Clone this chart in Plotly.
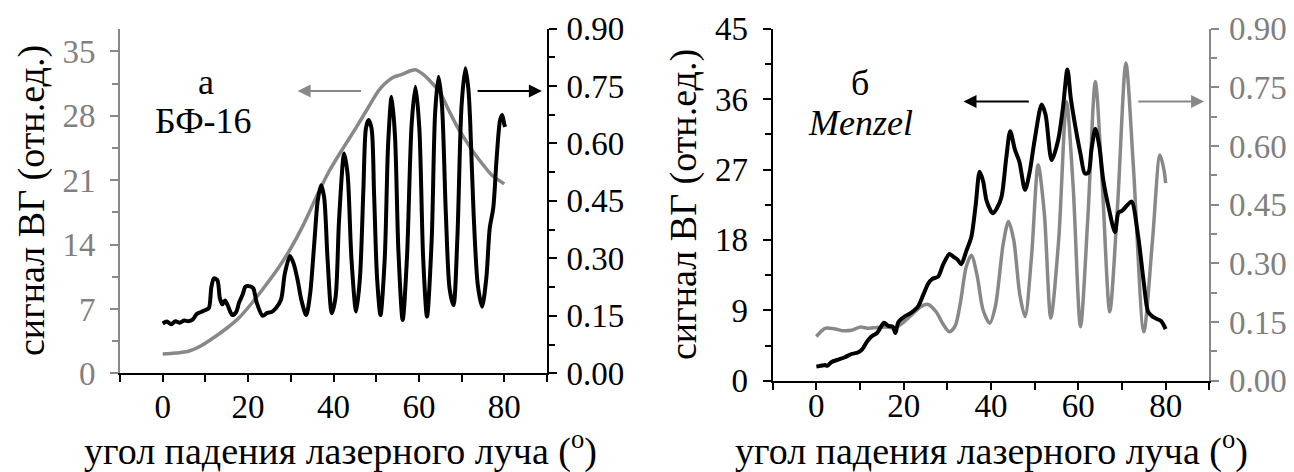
import plotly.graph_objects as go

# ---------------- data ----------------
# Panel a (БФ-16): black curve -> right axis (0..0.9), gray curve -> left axis (0..37.5)
angle_a_black = [0, 1, 2, 3, 4, 5, 6, 7, 8, 9, 10, 10.8, 11.4, 12.0, 12.8, 13.4, 14.0, 14.6, 15.2,
                 16.3, 17.2, 17.9, 18.7, 19.4, 20.5, 21.2, 22.0, 23.4, 24.5, 25.5, 26.5, 27.7,
                 28.6, 29.8, 30.7, 31.6, 32.5, 33.6, 34.5, 35.5, 36.3, 37.1, 37.8, 38.6, 39.6,
                 40.5, 41.3, 42.5, 43.3, 44.2, 45.3, 46.2, 47.0, 47.6, 48.2, 48.9, 49.5, 50.2,
                 51.0, 52.0, 52.8, 53.6, 54.4, 55.2, 56.2, 57.2, 58.3, 59.2, 60.1, 61.0, 61.9,
                 63.0, 63.8, 64.6, 65.4, 66.3, 67.2, 68.1, 69.0, 70.0, 70.9, 71.6, 72.0, 72.8,
                 73.8, 74.8, 75.8, 76.6, 77.4, 78.2, 79.0, 79.5, 80.0, 80.2]
signal_a_black = [0.130, 0.135, 0.128, 0.136, 0.132, 0.138, 0.136, 0.140, 0.155, 0.160, 0.165, 0.170,
                  0.225, 0.248, 0.243, 0.195, 0.180, 0.190, 0.178, 0.152, 0.160, 0.185, 0.205,
                  0.226, 0.227, 0.222, 0.185, 0.150, 0.158, 0.160, 0.170, 0.192, 0.260, 0.306,
                  0.285, 0.243, 0.190, 0.152, 0.205, 0.340, 0.450, 0.491, 0.460, 0.300, 0.157,
                  0.200, 0.400, 0.574, 0.520, 0.300, 0.161, 0.250, 0.480, 0.640, 0.661, 0.640,
                  0.470, 0.250, 0.152, 0.300, 0.600, 0.722, 0.620, 0.320, 0.139, 0.300, 0.650,
                  0.748, 0.640, 0.300, 0.148, 0.350, 0.680, 0.774, 0.700, 0.420, 0.220, 0.178,
                  0.350, 0.700, 0.796, 0.740, 0.660, 0.420, 0.230, 0.174, 0.250, 0.380, 0.430,
                  0.560, 0.660, 0.674, 0.650, 0.643]
angle_a_gray = [0, 3, 6, 9, 12, 15, 18, 21, 24, 27, 30, 33, 36, 39, 42, 45, 48, 50.5, 52, 54, 56,
                58, 59.3, 61, 63, 65, 67, 69, 71, 73, 75, 77, 80]
signal_a_gray = [2.1, 2.2, 2.4, 3.0, 3.9, 4.9, 6.1, 7.7, 9.5, 11.4, 13.6, 16.2, 19.2, 22.0, 24.3,
                 26.5, 28.8, 30.7, 31.5, 32.2, 32.5, 32.9, 33.0, 32.5, 31.6, 30.5, 28.6, 26.8,
                 25.3, 23.9, 22.7, 21.6, 20.6]

# Panel б (Menzel): black curve -> left axis (0..45), gray curve -> right axis (0..0.9)
angle_b_black = [0, 1, 2, 2.5, 3.5, 5, 6.5, 8, 9.5, 10.5, 11.6, 12.5, 13.9, 14.7, 15.5, 16.5, 17.5,
                 18.1, 18.8, 20.2, 21.5, 23.3, 24.5, 25.6, 26.5, 27.9, 29, 30.5, 31.5, 32.3, 33.2,
                 34.3, 35.5, 36.5, 37.4, 38.2, 39.0, 40.4, 41.3, 42.4, 43.5, 44.4, 45.5, 46.5,
                 47.8, 48.8, 50.0, 51.6, 52.5, 53.9, 55.4, 56.5, 57.5, 58.3, 59.7, 60.5, 61.5,
                 62.3, 63.0, 63.9, 64.8, 65.7, 67.0, 68.4, 69.2, 70.0, 71.3, 72.2, 73.7, 75.0,
                 76.0, 77.0, 78.0, 79.0, 80.0]
signal_b_black = [1.8, 1.9, 2.0, 1.9, 2.4, 2.7, 3.0, 3.4, 3.6, 4.0, 5.0, 5.6, 6.1, 6.8, 7.4, 7.0,
                  6.9, 6.1, 7.5, 8.2, 8.6, 9.5, 11.0, 12.4, 13.0, 13.3, 14.8, 16.2, 15.8, 15.5,
                  14.9, 16.5, 18.4, 22.5, 26.7, 25.5, 23.0, 21.4, 22.0, 23.5, 28.5, 31.9, 29.5,
                  28.0, 24.4, 26.5, 30.8, 35.3, 34.0, 28.2, 30.8, 35.0, 39.8, 36.0, 31.3, 29.0,
                  26.5, 26.6, 29.5, 32.2, 30.0, 25.7, 22.0, 19.0, 21.5, 21.7, 22.5, 22.9, 18.5,
                  12.5, 8.8, 8.2, 7.9, 7.6, 6.6]
angle_b_gray = [0, 1, 2, 4, 6, 8, 10, 12, 14, 16, 18, 20, 22, 24, 25.6, 27.5, 29.0, 30.5, 31.8, 33.0,
                34.3, 35.5, 36.8, 38.2, 39.7, 41.0, 42.8, 44.0, 45.2, 46.6, 47.8, 49.3, 50.8, 52.2,
                53.7, 55.5, 57.3, 58.8, 60.5, 62.2, 63.9, 65.5, 67.2, 69.0, 70.9, 72.6, 75.0, 77.0,
                78.7, 79.6, 80.0]
signal_b_gray = [0.113, 0.125, 0.134, 0.133, 0.128, 0.129, 0.137, 0.134, 0.136, 0.137, 0.135, 0.150,
                 0.170, 0.190, 0.195, 0.175, 0.145, 0.125, 0.140, 0.200, 0.290, 0.321, 0.270,
                 0.180, 0.147, 0.190, 0.350, 0.407, 0.360, 0.220, 0.164, 0.320, 0.552, 0.430,
                 0.160, 0.360, 0.713, 0.500, 0.138, 0.420, 0.765, 0.500, 0.176, 0.450, 0.812,
                 0.550, 0.125, 0.360, 0.577, 0.540, 0.505]

x_tickvals = [0, 20, 40, 60, 80]
a_left_ticks = [0, 7, 14, 21, 28, 35]
b_left_ticks = [0, 9, 18, 27, 36, 45]
right_ticks = [0.00, 0.15, 0.30, 0.45, 0.60, 0.75, 0.90]

# ---------------- styling ----------------
W, H = 1294, 472
GRAY = "#888888"
LBLGRAY = "#808080"
BLACK = "#000000"
FONT = "Liberation Serif, Tinos, Times New Roman, DejaVu Serif, serif"
TICKFONT = 33
TITLEFONT = 38


def px_x(p):
    return p / W


def px_y(p):
    return 1 - p / H


a_dom_x = [px_x(120), px_x(547)]
a_dom_y = [px_y(373.3), px_y(28.5)]
b_dom_x = [px_x(772.7), px_x(1209.3)]
b_dom_y = [px_y(380.7), px_y(28.7)]

fig = go.Figure()
line_gray = dict(color=GRAY, width=3.5, shape="spline", smoothing=0.8)
line_black = dict(color=BLACK, width=4, shape="spline", smoothing=0.8)

fig.add_trace(go.Scatter(x=angle_a_gray, y=signal_a_gray, xaxis="x", yaxis="y",
                         mode="lines", line=line_gray, showlegend=False))
fig.add_trace(go.Scatter(x=angle_a_black, y=signal_a_black, xaxis="x", yaxis="y2",
                         mode="lines", line=line_black, showlegend=False))
fig.add_trace(go.Scatter(x=angle_b_gray, y=signal_b_gray, xaxis="x2", yaxis="y3",
                         mode="lines", line=line_gray, showlegend=False))
fig.add_trace(go.Scatter(x=angle_b_black, y=signal_b_black, xaxis="x2", yaxis="y4",
                         mode="lines", line=line_black, showlegend=False))


def xaxis_bottom(dom, anchor, standoff):
    return dict(domain=dom, anchor=anchor, range=[-10, 90], tickvals=x_tickvals,
                ticks="outside", ticklen=7, tickwidth=2, tickcolor=BLACK,
                minor=dict(dtick=10, tick0=0, ticks="outside", ticklen=7, tickwidth=2, tickcolor=BLACK),
                showline=True, linecolor=BLACK, linewidth=2, showgrid=False, zeroline=False,
                tickfont=dict(family=FONT, size=TICKFONT, color=BLACK), ticklabelstandoff=standoff,
                automargin=False, fixedrange=True)


def xaxis_top(over, anchor):
    return dict(overlaying=over, anchor=anchor, side="top", range=[-10, 90], dtick=10, tick0=0,
                ticks="inside", ticklen=5, tickwidth=2, tickcolor=BLACK, showticklabels=False,
                showline=True, linecolor=BLACK, linewidth=2, showgrid=False, zeroline=False,
                automargin=False)


def yaxis(color, lblcolor, rng, tickvals, minor_dtick, fmt, side, standoff, **kw):
    d = dict(range=rng, tickvals=tickvals, side=side, ticks="outside", ticklen=8, tickwidth=2,
             tickcolor=color,
             minor=dict(dtick=minor_dtick, tick0=0, ticks="outside", ticklen=6, tickwidth=2, tickcolor=color),
             showline=True, linecolor=color, linewidth=2, showgrid=False, zeroline=False,
             tickformat=fmt, tickfont=dict(family=FONT, size=TICKFONT, color=lblcolor),
             ticklabelstandoff=standoff, automargin=False, fixedrange=True)
    d.update(kw)
    return d


fig.update_layout(
    width=W, height=H, margin=dict(l=0, r=0, t=0, b=0, pad=0),
    paper_bgcolor="white", plot_bgcolor="rgba(0,0,0,0)",
    font=dict(family=FONT, size=TICKFONT, color=BLACK),
    showlegend=False,
    xaxis=xaxis_bottom(a_dom_x, "y", -4),
    xaxis2=xaxis_bottom(b_dom_x, "y3", -12),
    xaxis3=xaxis_top("x", "y"),
    xaxis4=xaxis_top("x2", "y3"),
    yaxis=yaxis(GRAY, LBLGRAY, [0, 37.5], a_left_ticks, 3.5, "d", "left", 8,
                domain=a_dom_y, anchor="x"),
    yaxis2=yaxis(BLACK, BLACK, [0, 0.9], right_ticks, 0.075, ".2f", "right", 3,
                 overlaying="y", anchor="x"),
    yaxis3=yaxis(GRAY, LBLGRAY, [0, 0.9], right_ticks, 0.075, ".2f", "right", 3,
                 domain=b_dom_y, anchor="x2"),
    yaxis4=yaxis(BLACK, BLACK, [0, 45], b_left_ticks, 4.5, "d", "left", 8,
                 overlaying="y3", anchor="x2"),
)

ann_font = dict(family=FONT, size=36, color=BLACK)
title_font = dict(family=FONT, size=TITLEFONT, color=BLACK)
annotations = [
    # panel labels
    dict(x=10.1, y=31.7, xref="x", yref="y", text="а", showarrow=False, font=ann_font),
    dict(x=9.6, y=27.4, xref="x", yref="y", text="БФ-16", showarrow=False, font=ann_font),
    dict(x=10.1, y=38.0, xref="x2", yref="y4", text="б", showarrow=False, font=ann_font),
    dict(x=10.1, y=33.0, xref="x2", yref="y4", text="<i>Menzel</i>", showarrow=False, font=ann_font),
    # arrows, panel a
    dict(x=31.6, y=30.7, ax=46.8, ay=30.7, xref="x", yref="y", axref="x", ayref="y",
         text="", showarrow=True, arrowhead=2, arrowsize=1.3, arrowwidth=2, arrowcolor=GRAY),
    dict(x=88.8, y=30.7, ax=73.4, ay=30.7, xref="x", yref="y", axref="x", ayref="y",
         text="", showarrow=True, arrowhead=2, arrowsize=1.3, arrowwidth=2, arrowcolor=BLACK),
    # arrows, panel б
    dict(x=33.7, y=35.7, ax=49.0, ay=35.7, xref="x2", yref="y4", axref="x2", ayref="y4",
         text="", showarrow=True, arrowhead=2, arrowsize=1.3, arrowwidth=2, arrowcolor=BLACK),
    dict(x=88.8, y=35.7, ax=73.4, ay=35.7, xref="x2", yref="y4", axref="x2", ayref="y4",
         text="", showarrow=True, arrowhead=2, arrowsize=1.3, arrowwidth=2, arrowcolor=GRAY),
    # axis titles
    dict(x=px_x(340), y=px_y(448), xref="paper", yref="paper",
         text="угол падения лазерного луча (<sup>o</sup>)", showarrow=False, font=title_font,
         xanchor="center", yanchor="middle"),
    dict(x=px_x(991), y=px_y(448), xref="paper", yref="paper",
         text="угол падения лазерного луча (<sup>o</sup>)", showarrow=False, font=title_font,
         xanchor="center", yanchor="middle"),
    dict(x=px_x(31), y=px_y(201), xref="paper", yref="paper", text="сигнал ВГ (отн.ед.)",
         showarrow=False, font=title_font, textangle=-90, xanchor="center", yanchor="middle"),
    dict(x=px_x(683), y=px_y(205), xref="paper", yref="paper", text="сигнал ВГ (отн.ед.)",
         showarrow=False, font=title_font, textangle=-90, xanchor="center", yanchor="middle"),
]
fig.update_layout(annotations=annotations)

fig.write_html("out.html", config={"displayModeBar": False},
               post_script="document.body.style.margin='0';document.body.style.overflow='hidden';")
